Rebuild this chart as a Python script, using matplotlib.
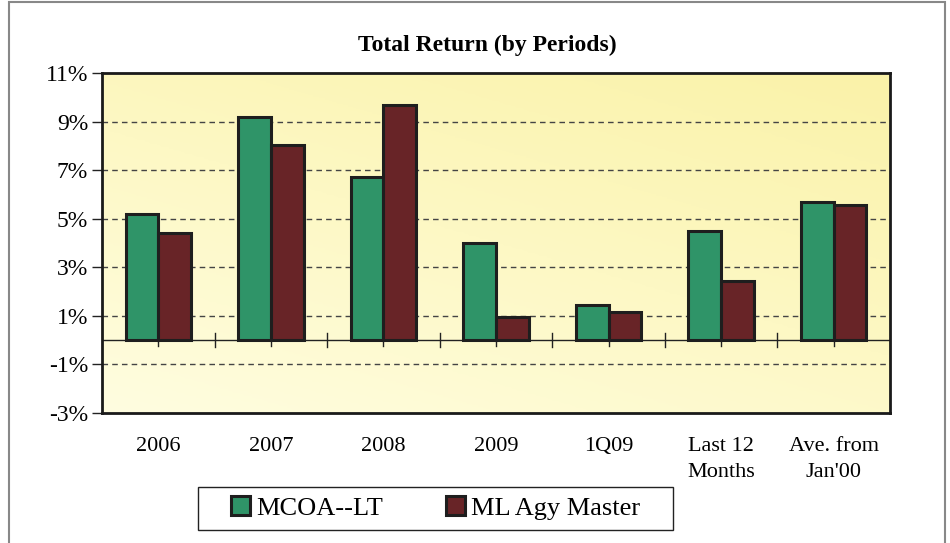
import matplotlib.pyplot as plt
import numpy as np
from matplotlib.patches import Rectangle
from matplotlib.colors import LinearSegmentedColormap

# data (percent)
categories = ["2006", "2007", "2008", "2009", "1Q09", "Last 12\nMonths", "Ave. from\nJan'00"]
mcoa_lt = [5.2, 9.2, 6.7, 4.0, 1.45, 4.5, 5.7]
ml_agy = [4.4, 8.05, 9.7, 0.95, 1.15, 2.45, 5.55]
series_names = ["MCOA--LT", "ML Agy Master"]
y_ticks = [-3, -1, 1, 3, 5, 7, 9, 11]

plt.rcParams['font.family'] = ['Liberation Serif', 'DejaVu Serif']

fig = plt.figure(figsize=(9.5, 5.43), dpi=100)
ax = fig.add_axes([0.1074, 0.2394, 0.8294, 0.6262])

x = np.arange(len(categories))
w = 0.29
green = '#2f9468'
maroon = '#682427'

# pale yellow gradient background
cmap = LinearSegmentedColormap.from_list('bg', ['#fffde0', '#fdf8c4', '#faf2a8'])
gy, gx = np.mgrid[0:1:200j, 0:1:200j]
grad = 0.6 * gy + 0.4 * gx
ax.imshow(grad, cmap=cmap, aspect='auto', origin='lower',
          extent=[-0.5, len(categories) - 0.5, -3, 11], zorder=0)

ax.bar(x - w / 2, mcoa_lt, w, color=green, edgecolor='#1e1e1e', linewidth=2.2,
       label=series_names[0], zorder=3)
ax.bar(x + w / 2, ml_agy, w, color=maroon, edgecolor='#1e1e1e', linewidth=2.2,
       label=series_names[1], zorder=3)

ax.set_xlim(-0.5, len(categories) - 0.5)
ax.set_ylim(-3, 11)
ax.set_yticks(y_ticks)
ax.set_yticklabels([f"{v}%" for v in y_ticks], fontsize=17)
for v in y_ticks[1:-1]:
    ax.axhline(v, color='#444444', linestyle=(0, (4, 3)), linewidth=1.0, zorder=1)

# zero line with category ticks
ax.axhline(0, color='#222222', linewidth=1.0, zorder=2)
for b in np.arange(0.5, len(categories) - 1, 1):
    ax.plot([b, b], [-0.28, 0.28], color='#222222', linewidth=1.0, zorder=2)
for c in x:
    ax.plot([c, c], [-0.25, 0], color='#222222', linewidth=1.0, zorder=2)

ax.set_xticks(x)
ax.set_xticklabels(categories, fontsize=16, linespacing=1.5, va='top')
ax.tick_params(axis='x', length=0, pad=17)
ax.tick_params(axis='y', length=7, width=1, color='#222222', pad=3)

for s in ax.spines.values():
    s.set_linewidth(2.0)
    s.set_color('#1a1a1a')

fig.text(0.5127, 0.917, "Total Return (by Periods)", ha='center', va='center',
         fontsize=17, fontweight='bold')

# legend with a separately drawn frame (reference box is wider than the content)
leg = fig.legend(loc='center', bbox_to_anchor=(0.4585, 0.0645), ncol=2, fontsize=19,
                 frameon=False, handlelength=0.72, handleheight=0.72,
                 handletextpad=0.23, columnspacing=2.4, borderpad=0.2)
fig.add_artist(Rectangle((198 / 950, 1 - 530 / 543), 475 / 950, 43 / 543,
                         transform=fig.transFigure, fill=False,
                         edgecolor='#222222', linewidth=1.0))

# outer border of the chart
fig.add_artist(Rectangle((9 / 950, -0.01), 936 / 950, 1.006, transform=fig.transFigure,
                         fill=False, edgecolor='#888888', linewidth=1.5))

fig.savefig('out.png', dpi=100, facecolor='white')
